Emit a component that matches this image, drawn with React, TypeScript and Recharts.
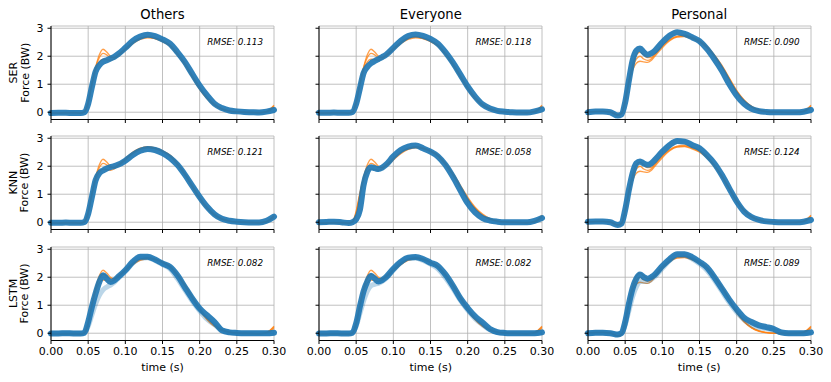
import { CartesianGrid, Line, LineChart, XAxis, YAxis } from "recharts";

// sample times (s) — denser around the early hump
const TIME = [
  0, 0.01, 0.02, 0.03, 0.04,
  0.045, 0.05, 0.055, 0.06, 0.065, 0.07, 0.075, 0.08, 0.085, 0.09,
  0.1, 0.11, 0.12, 0.13, 0.14, 0.15, 0.16, 0.17, 0.18, 0.19, 0.2,
  0.21, 0.22, 0.23, 0.24, 0.25, 0.26, 0.27, 0.28, 0.29, 0.3,
];

const ROW_NAMES = ["SER", "KNN", "LSTM"];
const COL_NAMES = ["Others", "Everyone", "Personal"];
const RMSE = [
  ["0.113", "0.118", "0.090"],
  ["0.121", "0.058", "0.124"],
  ["0.082", "0.082", "0.089"],
];
const X_TICKS = [0, 0.05, 0.1, 0.15, 0.2, 0.25, 0.3];
const X_TICK_LABELS = ["0.00", "0.05", "0.10", "0.15", "0.20", "0.25", "0.30"];
const Y_TICKS = [0, 1, 2, 3];

// measured trials (orange) — Others / Everyone subject
const ORANGE_A1 = [
  -0.02, -0.02, -0.01, -0.02, -0.03,
  0.0, 0.35, 1.0, 1.6, 2.05, 2.25, 2.15, 2.0, 1.95, 2.02,
  2.25, 2.48, 2.63, 2.7, 2.66, 2.55, 2.38, 2.08, 1.72, 1.28, 0.85,
  0.5, 0.26, 0.11, 0.04, 0.01, 0.0, -0.01, -0.02, 0.02, 0.22,
];
const ORANGE_A2 = [
  -0.03, -0.02, -0.02, -0.02, -0.03,
  0.02, 0.4, 1.05, 1.6, 1.95, 2.1, 2.05, 1.95, 1.95, 2.05,
  2.28, 2.5, 2.65, 2.68, 2.62, 2.52, 2.36, 2.05, 1.68, 1.25, 0.82,
  0.48, 0.24, 0.1, 0.03, 0.0, -0.01, -0.01, -0.02, 0.0, 0.18,
];
const ORANGE_A3 = [
  -0.02, -0.03, -0.02, -0.01, -0.02,
  0.01, 0.3, 0.95, 1.5, 1.8, 1.9, 1.88, 1.85, 1.9, 2.0,
  2.22, 2.45, 2.6, 2.66, 2.64, 2.55, 2.4, 2.12, 1.76, 1.33, 0.9,
  0.54, 0.29, 0.13, 0.05, 0.01, 0.0, -0.01, -0.01, 0.03, 0.25,
];
// measured trials (orange) — Personal subject
const ORANGE_B1 = [
  0.0, 0.02, 0.03, 0.01, -0.1,
  -0.05, 0.4, 1.1, 1.6, 1.9, 2.0, 1.9, 1.85, 1.9, 2.05,
  2.35, 2.58, 2.7, 2.72, 2.65, 2.53, 2.33, 2.02, 1.65, 1.2, 0.75,
  0.42, 0.2, 0.08, 0.02, 0.0, 0.0, -0.01, -0.01, 0.03, 0.22,
];
const ORANGE_B2 = [
  0.0, 0.02, 0.02, 0.0, -0.1,
  -0.06, 0.35, 1.0, 1.5, 1.75, 1.82, 1.8, 1.78, 1.85, 2.0,
  2.3, 2.55, 2.68, 2.7, 2.62, 2.5, 2.3, 2.0, 1.62, 1.18, 0.73,
  0.4, 0.19, 0.07, 0.02, 0.0, -0.01, -0.01, -0.01, 0.02, 0.18,
];
const ORANGE_B3 = [
  0.01, 0.03, 0.03, 0.01, -0.09,
  -0.04, 0.45, 1.15, 1.7, 2.05, 2.15, 2.05, 1.95, 1.95, 2.08,
  2.38, 2.6, 2.72, 2.75, 2.68, 2.56, 2.36, 2.05, 1.68, 1.23, 0.78,
  0.44, 0.21, 0.08, 0.03, 0.0, 0.0, -0.01, 0.0, 0.04, 0.25,
];

// predictions (blue)
const BLUE_SER_OTHERS = [
  -0.03, -0.02, -0.02, -0.03, -0.03,
  0.0, 0.3, 0.9, 1.45, 1.68, 1.8, 1.86, 1.92, 1.98, 2.07,
  2.3, 2.55, 2.7, 2.77, 2.72, 2.6, 2.45, 2.15, 1.8, 1.37, 0.95,
  0.6, 0.3, 0.15, 0.06, 0.03, 0.01, 0.0, -0.01, 0.02, 0.08,
];
const BLUE_SER_EVERYONE = [
  -0.02, -0.02, -0.01, -0.02, -0.02,
  0.01, 0.3, 0.85, 1.4, 1.62, 1.75, 1.83, 1.9, 1.97, 2.05,
  2.3, 2.55, 2.72, 2.78, 2.73, 2.62, 2.45, 2.15, 1.78, 1.35, 0.92,
  0.56, 0.28, 0.13, 0.05, 0.02, 0.0, -0.01, -0.01, 0.03, 0.1,
];
const BLUE_SER_PERSONAL = [
  0.0, 0.03, 0.03, 0.0, -0.12,
  -0.08, 0.35, 1.13, 1.85, 2.2, 2.28, 2.14, 2.05, 2.1, 2.2,
  2.5, 2.74, 2.86, 2.8, 2.68, 2.54, 2.26, 1.9, 1.49, 1.01, 0.6,
  0.3, 0.12, 0.04, 0.01, 0.0, 0.0, 0.0, 0.0, 0.02, 0.08,
];
const BLUE_KNN_OTHERS = [
  -0.02, -0.02, -0.01, -0.02, -0.02,
  0.01, 0.3, 0.9, 1.5, 1.75, 1.85, 1.92, 1.97, 2.0, 2.05,
  2.2, 2.4, 2.55, 2.62, 2.58, 2.47, 2.3, 2.05, 1.7, 1.3, 0.9,
  0.55, 0.28, 0.12, 0.05, 0.02, 0.0, -0.01, -0.01, 0.05, 0.2,
];
const BLUE_KNN_EVERYONE = [
  0.0, 0.01, 0.02, 0.0, -0.03,
  0.0, 0.1, 0.44, 1.33, 1.8, 1.96, 1.93, 1.9, 1.95, 2.05,
  2.35, 2.58, 2.7, 2.74, 2.64, 2.52, 2.35, 2.05, 1.63, 1.15, 0.68,
  0.35, 0.15, 0.06, 0.02, 0.0, 0.0, 0.0, 0.0, 0.05, 0.15,
];
const BLUE_KNN_PERSONAL = [
  0.02, 0.03, 0.03, 0.0, -0.1,
  -0.05, 0.44, 1.15, 1.75, 2.1, 2.17, 2.1, 2.05, 2.1, 2.23,
  2.52, 2.76, 2.9, 2.88, 2.76, 2.64, 2.4, 2.1, 1.69, 1.21, 0.74,
  0.38, 0.18, 0.08, 0.03, 0.01, 0.0, 0.0, 0.0, 0.02, 0.08,
];
const BLUE_LSTM_OTHERS = [
  -0.01, -0.01, 0.0, -0.01, -0.01,
  0.02, 0.4, 0.94, 1.42, 1.83, 2.07, 1.95, 1.83, 1.88, 2.0,
  2.25, 2.55, 2.73, 2.73, 2.63, 2.49, 2.37, 2.07, 1.65, 1.24, 0.88,
  0.64, 0.4, 0.1, 0.03, 0.01, 0.0, 0.0, 0.0, 0.0, 0.02,
];
const BLUE_LSTM_EVERYONE = [
  -0.01, -0.01, 0.0, -0.01, -0.01,
  0.02, 0.35, 0.95, 1.5, 1.85, 2.05, 1.95, 1.85, 1.9, 2.0,
  2.3, 2.55, 2.7, 2.72, 2.65, 2.52, 2.4, 2.1, 1.7, 1.25, 0.9,
  0.6, 0.38, 0.15, 0.04, 0.01, 0.0, 0.0, 0.0, 0.0, 0.03,
];
const BLUE_LSTM_PERSONAL = [
  0.0, 0.02, 0.02, 0.0, -0.05,
  0.0, 0.4, 1.05, 1.6, 1.95, 2.1, 2.0, 1.95, 2.0, 2.1,
  2.4, 2.65, 2.82, 2.82, 2.72, 2.55, 2.35, 2.0, 1.6, 1.2, 0.85,
  0.55, 0.4, 0.28, 0.22, 0.15, 0.03, 0.0, 0.0, 0.0, 0.03,
];
// LSTM spread (fainter predictions)
const FAINT_LSTM_OTHERS = [
  0.0, 0.0, 0.0, 0.0, 0.0,
  0.02, 0.25, 0.65, 1.05, 1.35, 1.55, 1.65, 1.72, 1.82, 1.95,
  2.2, 2.5, 2.68, 2.7, 2.6, 2.45, 2.3, 1.95, 1.55, 1.15, 0.8,
  0.5, 0.3, 0.12, 0.03, 0.0, 0.0, 0.0, 0.0, 0.0, 0.02,
];
const FAINT_LSTM_EVERYONE = [
  0.0, 0.0, 0.0, 0.0, 0.0,
  0.02, 0.25, 0.7, 1.15, 1.5, 1.7, 1.75, 1.78, 1.85, 1.95,
  2.25, 2.52, 2.68, 2.68, 2.6, 2.47, 2.3, 1.98, 1.6, 1.18, 0.82,
  0.52, 0.3, 0.12, 0.03, 0.0, 0.0, 0.0, 0.0, 0.0, 0.02,
];
const FAINT_LSTM_PERSONAL = [
  0.0, 0.02, 0.02, 0.0, -0.04,
  0.0, 0.3, 0.8, 1.3, 1.65, 1.85, 1.85, 1.85, 1.92, 2.02,
  2.32, 2.6, 2.78, 2.78, 2.66, 2.48, 2.25, 1.9, 1.5, 1.1, 0.75,
  0.48, 0.3, 0.2, 0.16, 0.1, 0.02, 0.0, 0.0, 0.0, 0.02,
];

const ORANGE_SETS = [
  [ORANGE_A1, ORANGE_A2, ORANGE_A3],
  [ORANGE_A1, ORANGE_A2, ORANGE_A3],
  [ORANGE_B1, ORANGE_B2, ORANGE_B3],
];
const BLUE = [
  [BLUE_SER_OTHERS, BLUE_SER_EVERYONE, BLUE_SER_PERSONAL],
  [BLUE_KNN_OTHERS, BLUE_KNN_EVERYONE, BLUE_KNN_PERSONAL],
  [BLUE_LSTM_OTHERS, BLUE_LSTM_EVERYONE, BLUE_LSTM_PERSONAL],
];
const FAINT = [null, null, [FAINT_LSTM_OTHERS, FAINT_LSTM_EVERYONE, FAINT_LSTM_PERSONAL]];

const PLOT_LEFT = [51, 319.3, 587.7];
const PLOT_TOP = [26, 135.8, 246.7];
const PLOT_W = 223;
const PLOT_H = 93.5;
const AXIS_W = 40;
const AXIS_H = 25;
const M_TOP = 5;
const M_RIGHT = 16;

const FONT = "DejaVu Sans";
const BLUE_C = "#1f77b4";
const ORANGE_C = "#ff7f0e";

function XTick(props: any) {
  const { x, y, payload, show } = props;
  if (!show) return null;
  const i = X_TICKS.findIndex((v) => Math.abs(v - payload.value) < 1e-6);
  const label = i >= 0 ? X_TICK_LABELS[i] : Number(payload.value).toFixed(2);
  return (
    <text x={x} y={y} dy="0.75em" textAnchor="middle" fontSize={11} fontFamily={FONT} fill="#000">
      {label}
    </text>
  );
}

function Panel({ row, col }: { row: number; col: number }) {
  const oset = ORANGE_SETS[col];
  const blue = BLUE[row][col];
  const faint = FAINT[row] ? FAINT[row]![col] : null;
  const data = TIME.map((t, i) => ({
    t,
    o1: oset[0][i],
    o2: oset[1][i],
    o3: oset[2][i],
    b: blue[i],
    f: faint ? faint[i] : undefined,
  }));
  const bottom = row === 2;
  const left = col === 0;

  return (
    <div
      style={{
        position: "absolute",
        left: PLOT_LEFT[col] - AXIS_W,
        top: PLOT_TOP[row] - M_TOP,
      }}
    >
      <LineChart
        width={AXIS_W + PLOT_W + M_RIGHT}
        height={M_TOP + PLOT_H + AXIS_H}
        data={data}
        margin={{ top: M_TOP, right: M_RIGHT, bottom: 0, left: 0 }}
      >
        <CartesianGrid stroke="#b0b0b0" strokeWidth={0.8} />
        <XAxis
          dataKey="t"
          type="number"
          domain={[0, 0.3]}
          ticks={X_TICKS}
          height={AXIS_H}
          stroke="#000"
          tickSize={3.5}
          tickMargin={3}
          tick={<XTick show={bottom} />}
          interval={0}
        />
        <XAxis
          xAxisId="top"
          orientation="top"
          dataKey="t"
          type="number"
          domain={[0, 0.3]}
          height={0}
          stroke="#000"
          tick={false}
          tickLine={false}
        />
        <YAxis
          type="number"
          domain={[-0.26, 3.08]}
          ticks={Y_TICKS}
          width={AXIS_W}
          stroke="#000"
          tickSize={3.5}
          tickMargin={4}
          tick={{ fill: "#000", fontSize: 11, fontFamily: FONT }}
          tickFormatter={(v: number) => (left ? String(v) : "")}
          interval={0}
        />
        <YAxis
          yAxisId="right"
          orientation="right"
          type="number"
          domain={[-0.26, 3.08]}
          width={0}
          stroke="#000"
          tick={false}
          tickLine={false}
        />
        {["o1", "o2", "o3"].map((k) => (
          <Line
            key={k}
            type="monotone"
            dataKey={k}
            stroke={ORANGE_C}
            strokeWidth={1.3}
            strokeOpacity={0.75}
            dot={false}
            isAnimationActive={false}
          />
        ))}
        {faint && (
          <Line
            type="monotone"
            dataKey="f"
            stroke={BLUE_C}
            strokeWidth={5}
            strokeOpacity={0.3}
            dot={false}
            isAnimationActive={false}
          />
        )}
        <Line
          type="monotone"
          dataKey="b"
          stroke={BLUE_C}
          strokeWidth={6}
          strokeOpacity={0.92}
          strokeLinecap="round"
          dot={false}
          isAnimationActive={false}
        />
      </LineChart>
    </div>
  );
}

export default function App() {
  return (
    <div
      style={{
        position: "absolute",
        left: 0,
        top: 0,
        width: 831,
        height: 382,
        background: "#fff",
        fontFamily: FONT,
      }}
    >
      {ROW_NAMES.map((_, r) =>
        COL_NAMES.map((_, c) => <Panel key={`${r}-${c}`} row={r} col={c} />)
      )}
      <svg
        width={831}
        height={382}
        style={{ position: "absolute", left: 0, top: 0, pointerEvents: "none" }}
        fontFamily={FONT}
      >
        {COL_NAMES.map((name, c) => (
          <g key={name}>
            <text x={PLOT_LEFT[c] + PLOT_W / 2} y={19.3} fontSize={13.2} textAnchor="middle">
              {name}
            </text>
            <text x={PLOT_LEFT[c] + PLOT_W / 2} y={370.5} fontSize={11} textAnchor="middle">
              time (s)
            </text>
          </g>
        ))}
        {ROW_NAMES.map((name, r) => {
          const cy = PLOT_TOP[r] + PLOT_H / 2;
          return (
            <g key={name}>
              <text
                x={17}
                y={cy}
                fontSize={11}
                textAnchor="middle"
                transform={`rotate(-90 17 ${cy})`}
              >
                {name}
              </text>
              <text
                x={28.5}
                y={cy}
                fontSize={11}
                textAnchor="middle"
                transform={`rotate(-90 28.5 ${cy})`}
              >
                Force (BW)
              </text>
            </g>
          );
        })}
        {RMSE.map((rowVals, r) =>
          rowVals.map((v, c) => (
            <text
              key={`${r}-${c}`}
              x={PLOT_LEFT[c] + PLOT_W - 11}
              y={PLOT_TOP[r] + 19}
              fontSize={8.8}
              fontStyle="italic"
              textAnchor="end"
            >
              RMSE: {v}
            </text>
          ))
        )}
      </svg>
    </div>
  );
}
